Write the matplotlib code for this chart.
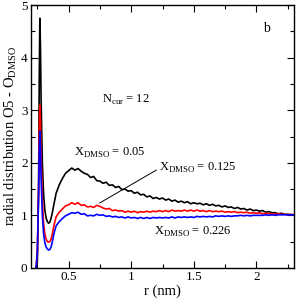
import numpy as np
import matplotlib
matplotlib.use("Agg")
import matplotlib.pyplot as plt

plt.rcParams['font.family'] = ['Liberation Serif', 'DejaVu Serif']
plt.rcParams['mathtext.fontset'] = 'custom'
plt.rcParams['mathtext.rm'] = 'Liberation Serif'

# first peak region (shared grid)
r_peak = [0.24, 0.25, 0.26, 0.265, 0.27, 0.275, 0.28, 0.29, 0.30, 0.31,
          0.32, 0.33, 0.34, 0.35, 0.36, 0.37, 0.38, 0.39]
g05_peak = [0.0, 0.1, 1.5, 3.5, 4.75, 4.2, 3.2, 2.0, 1.4, 1.1,
            0.95, 0.88, 0.85, 0.87, 0.95, 1.05, 1.18, 1.3]
g125_peak = [0.0, 0.3, 1.5, 2.6, 3.1, 2.8, 2.1, 1.3, 0.85, 0.65,
             0.55, 0.5, 0.49, 0.5, 0.55, 0.65, 0.78, 0.88]
g226_peak = [0.0, 0.3, 1.4, 2.2, 2.6, 2.3, 1.7, 1.0, 0.65, 0.48,
             0.4, 0.36, 0.34, 0.35, 0.4, 0.5, 0.62, 0.72]

# tail region, 0.4 .. 2.3 nm every 0.025 nm
r_tail = np.linspace(0.4, 2.3, 77)
g05_tail = [1.42, 1.58, 1.70, 1.80, 1.85, 1.90, 1.86, 1.89, 1.84, 1.80,
            1.78, 1.72, 1.74, 1.66, 1.65, 1.61, 1.63, 1.57, 1.58, 1.53,
            1.55, 1.49, 1.50, 1.46, 1.47, 1.42, 1.44, 1.39, 1.40, 1.35,
            1.37, 1.32, 1.34, 1.31, 1.33, 1.29, 1.31, 1.27, 1.29, 1.25,
            1.27, 1.24, 1.26, 1.22, 1.24, 1.22, 1.23, 1.20, 1.22, 1.19,
            1.21, 1.18, 1.19, 1.16, 1.18, 1.15, 1.16, 1.13, 1.15, 1.12,
            1.13, 1.10, 1.12, 1.09, 1.10, 1.08, 1.09, 1.06, 1.07, 1.05,
            1.05, 1.03, 1.04, 1.02, 1.02, 1.01, 1.01]
g125_tail = [0.97, 1.06, 1.12, 1.18, 1.20, 1.24, 1.21, 1.24, 1.19, 1.20,
             1.16, 1.17, 1.15, 1.19, 1.17, 1.14, 1.12, 1.13, 1.09, 1.10,
             1.08, 1.09, 1.06, 1.08, 1.06, 1.08, 1.05, 1.07, 1.06, 1.08,
             1.06, 1.08, 1.07, 1.09, 1.07, 1.09, 1.07, 1.10, 1.08, 1.09,
             1.08, 1.10, 1.08, 1.10, 1.08, 1.10, 1.08, 1.09, 1.07, 1.09,
             1.07, 1.08, 1.07, 1.08, 1.06, 1.07, 1.06, 1.07, 1.05, 1.06,
             1.05, 1.06, 1.04, 1.05, 1.04, 1.05, 1.03, 1.04, 1.03, 1.03,
             1.02, 1.03, 1.02, 1.02, 1.01, 1.02, 1.01]
g226_tail = [0.80, 0.88, 0.94, 0.99, 1.02, 1.05, 1.04, 1.06, 1.02, 1.03,
             0.99, 1.00, 0.99, 1.02, 1.00, 1.01, 0.98, 0.99, 0.97, 0.98,
             0.96, 0.97, 0.95, 0.97, 0.95, 0.96, 0.94, 0.96, 0.94, 0.96,
             0.94, 0.96, 0.95, 0.96, 0.95, 0.96, 0.95, 0.97, 0.95, 0.97,
             0.96, 0.97, 0.96, 0.97, 0.96, 0.98, 0.97, 0.98, 0.97, 0.98,
             0.97, 0.99, 0.98, 0.99, 0.98, 0.99, 0.98, 0.99, 0.99, 1.00,
             0.99, 1.00, 0.99, 1.00, 1.00, 1.00, 1.00, 1.01, 1.00, 1.01,
             1.00, 1.01, 1.01, 1.01, 1.01, 1.01, 1.01]

r = np.concatenate([r_peak, r_tail])
curves = [
    (np.concatenate([g05_peak, g05_tail]), 'black'),
    (np.concatenate([g125_peak, g125_tail]), 'red'),
    (np.concatenate([g226_peak, g226_tail]), 'blue'),
]

fig = plt.figure(figsize=(2.96, 3.0), dpi=100)
ax = fig.add_axes([0.105, 0.107, 0.888, 0.876])

for g, c in curves:
    ax.plot(r, g, color=c, lw=1.2)

ax.set_xlim(0.2, 2.3)
ax.set_ylim(0, 5)
ax.set_xticks([0.5, 1, 1.5, 2])
ax.set_xticklabels(['0.5', '1', '1.5', '2'])
ax.set_xticks(np.arange(0.25, 2.3, 0.25), minor=True)
ax.set_yticks([0, 1, 2, 3, 4, 5])
ax.set_yticks(np.arange(0.5, 5, 1.0), minor=True)
ax.tick_params(which='both', direction='in', top=True, right=True,
               labelsize=9.5, width=0.8, pad=2.5)
ax.tick_params(which='major', length=5)
ax.tick_params(which='minor', length=3)
for s in ax.spines.values():
    s.set_linewidth(1.0)

ax.set_xlabel('r (nm)', fontsize=10.5, labelpad=1)
ax.set_ylabel(r'radial distribution O5 - O$_{\mathrm{DMSO}}$', fontsize=10.5, labelpad=1)

ax.text(0.77, 3.19, r'N$_{\mathrm{cur}}$ = 12', fontsize=9, va='center')
ax.text(0.54, 2.18, r'X$_{\mathrm{DMSO}}$ = 0.05', fontsize=9, va='center')
ax.text(1.22, 1.90, r'X$_{\mathrm{DMSO}}$ = 0.125', fontsize=9, va='center')
ax.text(1.18, 0.68, r'X$_{\mathrm{DMSO}}$ = 0.226', fontsize=9, va='center')
ax.text(2.08, 4.56, 'b', fontsize=10, va='center', ha='center')
ax.plot([0.748, 1.2], [1.235, 1.86], color='black', lw=0.7)

fig.savefig('out.png', dpi=100)
